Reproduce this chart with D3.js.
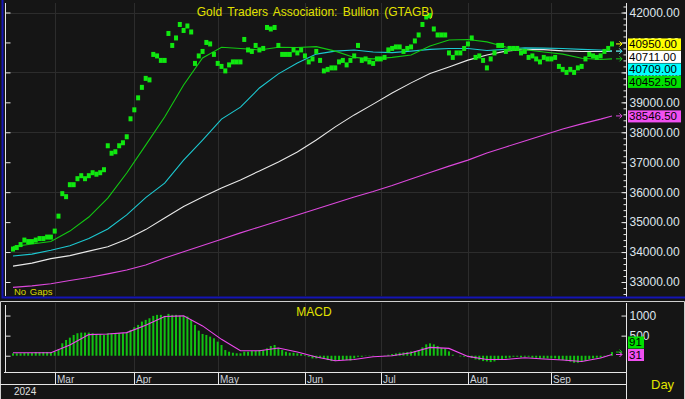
<!DOCTYPE html>
<html>
<head>
<meta charset="utf-8">
<style>
  body { margin: 0; background: #151515; }
  svg { display: block; font-family: Arial, "Liberation Sans", sans-serif; }
</style>
</head>
<body>
<script src="https://d3js.org/d3.v7.min.js"></script>
<script>
// daily closes, one per weekday, 15 Feb 2024 .. 24 Sep 2024
var closes = [
  34100, 34150, 34250, 34400, 34350, 34350, 34400, 34450, 34450, 34500, 34500,
  34700, 35200, 35950, 35850, 36250, 36250, 36450, 36550, 36450, 36550,
  36650, 36600, 36650, 36750, 37550, 37300, 37350, 37550, 37650, 37850,
  38450, 38750, 39150, 39500, 39800, 39750, 40600, 40550, 40400, 40400,
  41300, 40900, 41150, 41600, 41400, 41550, 41350, 40300, 40550, 40700,
  41000, 40950, 40600, 40300, 40200, 40050, 40250, 40350, 40350, 40350,
  41100, 40750, 40700, 40900, 40750, 40800, 41500, 41450, 41500, 40900,
  40600, 40600, 40600, 40750, 40650, 40750, 40550, 40350, 40450, 40700,
  40400, 40050, 40100, 40150, 40150, 40350, 40400, 40250, 40400, 40550,
  40900, 40400, 40450, 40350, 40300, 40450, 40450, 40500, 40750, 40800,
  40850, 40850, 40700, 40800, 40850, 41050, 41250, 41600, 41850, 41900,
  41450, 41250, 41250, 41250, 40650, 40500, 40650, 40650, 40800, 40950,
  41150, 40500, 40550, 40400, 40150, 40450, 40650, 40900, 40900, 40700,
  40800, 40800, 40800, 40650, 40700, 40500, 40550, 40450, 40350, 40500,
  40450, 40450, 40500, 40200, 40100, 40000, 40100, 40000, 40150, 40200,
  40450, 40600, 40550, 40500, 40550, 40700, 40800, 40950
];

// moving averages, read at these day numbers
var maDays = [0, 5, 10, 15, 20, 25, 30, 35, 40, 45, 50, 55, 60, 65, 70, 75, 80,
  85, 90, 95, 100, 105, 110, 115, 120, 125, 130, 135, 140, 145, 150, 155, 158];
var ma20 = [34180, 34270, 34350, 34700, 35170, 35800, 36640, 37570, 38510, 39580, 40480,
  40840, 40800, 40750, 40840, 40830, 40860, 40710, 40500, 40450, 40500, 40580, 40880,
  41080, 41100, 41020, 40850, 40760, 40680, 40610, 40470, 40430, 40452.5];
var ma50 = [33870, 33930, 34060, 34210, 34450, 34770, 35240, 35820, 36300, 37070, 37740,
  38440, 38840, 39480, 39950, 40310, 40610, 40710, 40750, 40680, 40660, 40710, 40770,
  40800, 40800, 40730, 40770, 40820, 40810, 40800, 40770, 40750, 40709];
var ma100 = [33530, 33630, 33780, 33880, 34030, 34180, 34430, 34750, 35140, 35520, 35840,
  36140, 36410, 36710, 37010, 37340, 37740, 38180, 38580, 38940, 39310, 39650, 39960,
  40180, 40410, 40580, 40710, 40770, 40760, 40720, 40700, 40700, 40711];
var ma200 = [32820, 32870, 32940, 33050, 33150, 33270, 33400, 33570, 33800, 34010, 34220,
  34430, 34640, 34840, 35040, 35240, 35440, 35640, 35840, 36020, 36220, 36440, 36660,
  36870, 37070, 37310, 37510, 37710, 37910, 38110, 38280, 38440, 38546.5];

// MACD histogram (daily) and signal line (at maDays)
var macd = [
  60, 60, 60, 67, 67, 67, 92, 85, 92, 92, 92,
  100, 160, 310, 392, 450, 517, 560, 575, 575, 575,
  560, 542, 533, 517, 560, 560, 560, 560, 560, 575,
  642, 708, 767, 850, 892, 933, 992, 1017, 1017, 992,
  1042, 1017, 1017, 1000, 992, 975, 892, 767, 625, 542,
  517, 475, 433, 350, 267, 142, 100, 75, 60, 60,
  100, 100, 117, 117, 142, 142, 183, 242, 267, 183,
  142, 100, 75, 75, 60, 42, 17, -25, -67, -67,
  -50, -67, -108, -133, -133, -108, -108, -108, -120, -67,
  -25, -25, -8, -8, -8, 0, 0, 8, 25, 42,
  58, 75, 83, 92, 108, 117, 142, 208, 283, 308,
  283, 242, 192, 175, 108, 25, 0, -17, -25, -25,
  -58, -92, -108, -133, -142, -158, -142, -108, -92, -67,
  -50, -25, -25, -42, -25, -25, -50, -50, -67, -67,
  -67, -67, -67, -92, -108, -133, -150, -175, -175, -150,
  -133, -92, -67, -50, -50, -25, 17, 91
];
var signal = [75, 75, 75, 267, 525, 542, 575, 758, 975, 992, 742, 408, 125, 125, 192, 92,
  -33, -125, -92, -25, 0, 75, 208, 183, -17, -92, -92, -50, -83, -108, -142, -58, 31];

var months = ["Mar", "Apr", "May", "Jun", "Jul", "Aug", "Sep"];
var monthDay = [11, 32, 54, 77, 97, 120, 142];
var priceTicks = [33000, 34000, 35000, 36000, 37000, 38000, 39000, 40000, 41000, 42000];
var priceGrid = [34000, 36000, 38000, 40000, 42000];
var macdTicks = [500, 1000];

var W = 685, H = 399;
var plotL = 5.5, plotR = 626.5;
var pTop = 3, pBot = 296, mTop = 303, mBot = 372;
var axisCol = "#e6e6e6", gridCol = "#2c2c2c", labelCol = "#dfe5ec";

var svg = d3.select("body").append("svg").attr("width", W).attr("height", H);
svg.append("rect").attr("width", W).attr("height", H).attr("fill", "#151515");

var x = d3.scaleLinear().domain([0, closes.length - 1]).range([13, 612]);
var y = d3.scaleLinear().domain([33000, 42000]).range([282, 12.5]);
var ym = d3.scaleLinear().domain([-380, 1300]).range([371, 303.5]);

// ---- price panel ----
var gp = svg.append("g");
gp.selectAll(".vg").data(monthDay).enter().append("line")
  .attr("x1", d => Math.round(x(d)) + 0.5).attr("x2", d => Math.round(x(d)) + 0.5)
  .attr("y1", pTop).attr("y2", pBot).attr("stroke", gridCol);
gp.selectAll(".hg").data(priceGrid).enter().append("line")
  .attr("x1", plotL).attr("x2", plotR)
  .attr("y1", d => Math.round(y(d)) + 0.5).attr("y2", d => Math.round(y(d)) + 0.5)
  .attr("stroke", gridCol);

function maLine(vals) {
  return d3.line().x((d, i) => x(maDays[i])).y(d => y(d))(vals);
}
[[ma200, "#dc48dc"], [ma100, "#e8e8e8"], [ma50, "#1cc8d0"], [ma20, "#12c812"]].forEach(function (s) {
  gp.append("path").attr("d", maLine(s[0])).attr("fill", "none")
    .attr("stroke", s[1]).attr("stroke-width", 1.1);
});

gp.selectAll(".dot").data(closes).enter().append("rect")
  .attr("x", (d, i) => x(i) - 2).attr("y", d => y(d) - 2.5)
  .attr("width", 4).attr("height", 5).attr("fill", "#10e810");

// title and footnote
svg.append("text").attr("x", 315).attr("y", 16).attr("text-anchor", "middle")
  .attr("fill", "#e2e200").style("font-size", "12px").style("word-spacing", "2px")
  .text("Gold Traders Association: Bullion (GTAGB)");
svg.append("text").attr("x", 14).attr("y", 294.5)
  .attr("fill", "#d8d800").style("font-size", "9.5px").style("word-spacing", "1px")
  .text("No Gaps");

// right price axis
var ra = svg.append("g").attr("transform", "translate(" + plotR + ",0)");
ra.call(d3.axisRight(y).tickValues(d3.range(32600, 42201, 200)).tickSizeInner(-3).tickSizeOuter(0).tickFormat(""));
ra.call(g => g.selectAll(".tick line").attr("stroke", axisCol));
var ra2 = svg.append("g").attr("transform", "translate(" + plotR + ",0)");
ra2.call(d3.axisRight(y).tickValues(priceTicks).tickSizeInner(-5).tickSizeOuter(0)
  .tickPadding(3).tickFormat(d3.format(".2f")));
ra2.selectAll(".tick line").attr("stroke", axisCol);
ra2.selectAll(".tick text").attr("fill", labelCol).style("font-size", "12px").style("font-family", "Arial, 'Liberation Sans', sans-serif");
svg.selectAll(".domain").remove();
svg.append("line").attr("x1", plotR).attr("x2", plotR).attr("y1", pTop).attr("y2", pBot + 1).attr("stroke", axisCol);

// left price axis
var la = svg.append("g").attr("transform", "translate(" + plotL + ",0)");
la.call(d3.axisRight(y).tickValues(d3.range(32600, 42201, 200)).tickSizeInner(2.5).tickSizeOuter(0).tickFormat(""));
la.call(d3.axisRight(y).tickValues(priceTicks).tickSizeInner(5).tickSizeOuter(0).tickFormat(""));
la.selectAll(".tick line").attr("stroke", axisCol);
la.selectAll(".domain").remove();
svg.append("line").attr("x1", plotL).attr("x2", plotL).attr("y1", pTop).attr("y2", pBot).attr("stroke", axisCol);

// value tags on the right
function arrow(g, yy, col) {
  g.append("path").attr("d", "M616," + yy + "h6m-2.5,-2.5l2.5,2.5l-2.5,2.5")
    .attr("fill", "none").attr("stroke", col).attr("stroke-width", 1);
}
function place(tags, gap, up) {
  tags.forEach(t => t.pos = t.y);
  if (!up) {
    for (var i = 1; i < tags.length; i++) tags[i].pos = Math.max(tags[i].pos, tags[i - 1].pos + gap);
  } else {
    for (var j = tags.length - 2; j >= 0; j--) tags[j].pos = Math.min(tags[j].pos, tags[j + 1].pos - gap);
  }
}
var last = closes.length - 1;
var priceTags = [
  { v: closes[last], col: "#ffff00", line: "#ffff00" },
  { v: ma100[ma100.length - 1], col: "#ffffff", line: "#e8e8e8" },
  { v: ma50[ma50.length - 1], col: "#00ffff", line: "#1cc8d0" },
  { v: ma20[ma20.length - 1], col: "#00e000", line: "#12c812" }
];
priceTags.forEach(t => t.y = y(t.v));
place(priceTags, 12.5, false);
var magTag = { v: ma200[ma200.length - 1], col: "#f050f0", line: "#dc48dc" };
magTag.y = magTag.pos = y(magTag.v);
priceTags.concat([magTag]).forEach(function (t) {
  arrow(svg, t.y, t.line);
  svg.append("rect").attr("x", 628).attr("y", t.pos - 5.5).attr("width", 53).attr("height", 12).attr("fill", t.col);
  svg.append("text").attr("x", 629).attr("y", t.pos + 4.3).attr("fill", "#000")
    .style("font-size", "11.5px").text(d3.format(".2f")(t.v));
});

// top panel frame
svg.append("path").attr("d", "M2.5,0V297.5H685").attr("fill", "none").attr("stroke", "#1414b4").attr("stroke-width", 2);

// ---- MACD panel ----
svg.append("path").attr("d", "M0.5,399V301.5H684.5V399").attr("fill", "none").attr("stroke", "#cfcfcf");
var gm = svg.append("g");
gm.selectAll(".mvg").data(monthDay).enter().append("line")
  .attr("x1", d => Math.round(x(d)) + 0.5).attr("x2", d => Math.round(x(d)) + 0.5)
  .attr("y1", mTop).attr("y2", mBot).attr("stroke", gridCol);
gm.selectAll(".bar").data(macd).enter().append("rect")
  .attr("x", (d, i) => x(i) - 1)
  .attr("y", d => Math.min(ym(d), ym(0)))
  .attr("width", 2)
  .attr("height", d => Math.abs(ym(d) - ym(0)))
  .attr("fill", "#12c012");
gm.append("path").attr("d", d3.line().x((d, i) => x(maDays[i])).y(d => ym(d))(signal))
  .attr("fill", "none").attr("stroke", "#f048f0").attr("stroke-width", 1.1);
svg.append("text").attr("x", 314).attr("y", 316).attr("text-anchor", "middle")
  .attr("fill", "#e2e200").style("font-size", "12px").text("MACD");

var mra = svg.append("g").attr("transform", "translate(" + plotR + ",0)");
mra.call(d3.axisRight(ym).tickValues(d3.range(-300, 1301, 100)).tickSizeInner(-2.5).tickSizeOuter(0).tickFormat(""));
mra.call(d3.axisRight(ym).tickValues(macdTicks).tickSizeInner(-5).tickSizeOuter(0).tickPadding(3).tickFormat(d3.format("d")));
mra.selectAll(".tick line").attr("stroke", axisCol);
mra.selectAll(".tick text").attr("fill", labelCol).style("font-size", "12px").style("font-family", "Arial, 'Liberation Sans', sans-serif");
mra.selectAll(".domain").remove();
svg.append("line").attr("x1", plotR).attr("x2", plotR).attr("y1", mTop).attr("y2", 399).attr("stroke", axisCol);

var mla = svg.append("g").attr("transform", "translate(" + plotL + ",0)");
mla.call(d3.axisRight(ym).tickValues(d3.range(-300, 1301, 100)).tickSizeInner(2.5).tickSizeOuter(0).tickFormat(""));
mla.call(d3.axisRight(ym).tickValues([0, 500, 1000]).tickSizeInner(5).tickSizeOuter(0).tickFormat(""));
mla.selectAll(".tick line").attr("stroke", axisCol);
mla.selectAll(".domain").remove();
svg.append("line").attr("x1", plotL).attr("x2", plotL).attr("y1", mTop + 2).attr("y2", mBot).attr("stroke", axisCol);

var macdTags = [
  { v: macd[last], col: "#00e000", line: "#12c012" },
  { v: signal[signal.length - 1], col: "#f050f0", line: "#f048f0" }
];
macdTags.forEach(t => t.y = ym(t.v));
macdTags.sort((a, b) => a.y - b.y);
place(macdTags, 12.5, true);
macdTags.forEach(function (t) {
  arrow(svg, t.y, t.line);
  svg.append("rect").attr("x", 628).attr("y", t.pos - 5.5).attr("width", 16).attr("height", 12).attr("fill", t.col);
  svg.append("text").attr("x", 629).attr("y", t.pos + 4.3).attr("fill", "#000")
    .style("font-size", "11.5px").text(d3.format("d")(t.v));
});

// ---- date axis ----
svg.append("line").attr("x1", 4).attr("x2", plotR).attr("y1", mBot + 0.5).attr("y2", mBot + 0.5).attr("stroke", axisCol);
svg.append("line").attr("x1", 0).attr("x2", plotR).attr("y1", 384.5).attr("y2", 384.5).attr("stroke", axisCol);
var gd = svg.append("g");
gd.selectAll(".mt").data(monthDay).enter().append("line")
  .attr("x1", d => Math.round(x(d)) + 0.5).attr("x2", d => Math.round(x(d)) + 0.5)
  .attr("y1", mBot).attr("y2", 384).attr("stroke", axisCol);
gd.selectAll(".ml").data(months).enter().append("text")
  .attr("x", (d, i) => Math.round(x(monthDay[i])) + 2).attr("y", 383)
  .attr("fill", "#cdd3da").style("font-size", "10px").text(d => d);
svg.append("text").attr("x", 14).attr("y", 395).attr("fill", "#e0e0e0")
  .style("font-size", "10px").text("2024");
svg.append("text").attr("x", 651).attr("y", 389).attr("fill", "#e2e200")
  .style("font-size", "13px").text("Day");
</script>
</body>
</html>
